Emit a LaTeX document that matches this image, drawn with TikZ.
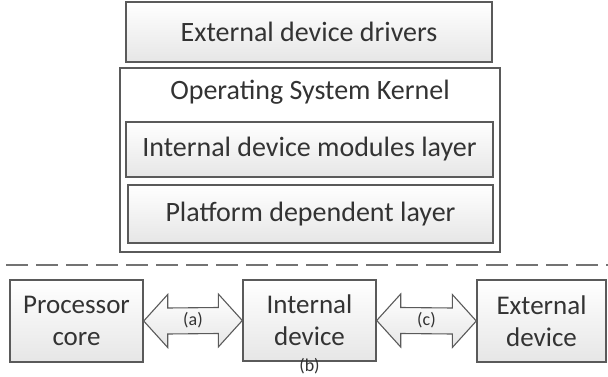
\documentclass[tikz,border=0pt]{standalone}
\usepackage{fontspec}
\setmainfont{Carlito}
\usetikzlibrary{calc}
\definecolor{bordc}{HTML}{5A5A5A}
\definecolor{txtc}{HTML}{333333}
\definecolor{lowc}{HTML}{E6E6E6}
\tikzset{
  box/.style={draw=bordc, line width=1.4pt, rectangle, inner sep=0pt,
    top color=white, bottom color=lowc, text=txtc, align=center},
  bigtxt/.style={font=\fontsize{28}{32}\selectfont},
  midtxt/.style={font=\fontsize{27}{32}\selectfont},
  lbl/.style={font=\fontsize{18}{20}\selectfont, text=txtc, inner sep=0pt},
  dblarrow/.style={draw=bordc, line width=1.1pt, top color=white, bottom color=lowc, line join=miter},
}
\begin{document}
\begin{tikzpicture}[x=1pt, y=-1pt]
\useasboundingbox (0,0) rectangle (608,377);
% upper stack
\node[box, bigtxt, minimum width=366pt, minimum height=60pt] (drv) at (309,32) {External device drivers};
\node[draw=bordc, line width=1.4pt, fill=white, rectangle, inner sep=0pt, minimum width=380pt, minimum height=184pt] (os) at (310,160) {};
\node[bigtxt, text=txtc, anchor=base, inner sep=0pt] (osl) at (310,100) {Operating System Kernel};
\node[box, bigtxt, minimum width=367pt, minimum height=55pt] (idm) at (309.5,149.5) {Internal device modules layer};
\node[box, bigtxt, minimum width=365pt, minimum height=58pt] (pdl) at (310.5,214) {Platform dependent layer};
% dashed separator
\coordinate (dl) at (6,265);
\coordinate (dr) at (608,265);
\draw[bordc!85, line width=2pt, dash pattern=on 22pt off 8pt] (dl) -- (dr);
% lower row
\node[box, midtxt, minimum width=133pt, minimum height=82pt] (pc) at (76.5,321) {Processor\\core};
\node[box, midtxt, minimum width=133pt, minimum height=81pt] (idv) at (309.5,320.5) {Internal\\device};
\node[box, midtxt, minimum width=129pt, minimum height=82pt] (ed) at (541.5,321) {External\\device};
% double arrows
\path[dblarrow] (pc.east) -- ++(24,-26.5) -- ++(0,13.5) -- ($(idv.west)+(-24,-13)$) -- ++(0,-13.5) -- (idv.west)
  -- ++(-24,26.5) -- ++(0,-13.5) -- ($(pc.east)+(24,13)$) -- ++(0,13.5) -- cycle;
\path[dblarrow] (idv.east) -- ++(24,-26.5) -- ++(0,13.5) -- ($(ed.west)+(-24,-13)$) -- ++(0,-13.5) -- (ed.west)
  -- ++(-24,26.5) -- ++(0,-13.5) -- ($(idv.east)+(24,13)$) -- ++(0,13.5) -- cycle;
\node[lbl] (la) at ($(pc.east)!0.5!(idv.west)+(0,-1)$) {(a)};
\node[lbl] (lc) at ($(idv.east)!0.5!(ed.west)+(0,-1)$) {(c)};
\node[lbl] (lb) at ($(idv.south)+(0,4)$) {(b)};
\end{tikzpicture}
\end{document}
